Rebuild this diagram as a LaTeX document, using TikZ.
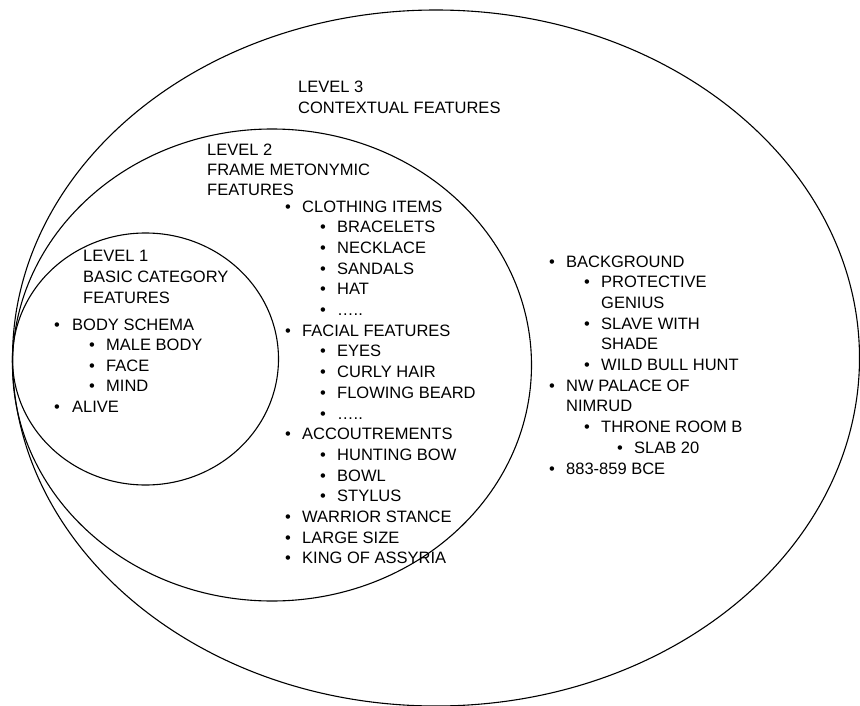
\documentclass[tikz,border=0pt]{standalone}
\usepackage{fontspec}
\setmainfont{Liberation Sans}
% one bulleted line: name, bullet x, text x, baseline y, text
\newcommand\bitem[5]{%
  \node[dot] (#1b) at (#2,#4) {•};
  \node[txt] (#1) at (#3,#4) {#5};}
\begin{document}
\begin{tikzpicture}[x=1pt,y=-1pt,
  ring/.style={draw=black, line width=1.1pt},
  txt/.style={anchor=base west, inner sep=0pt, font=\fontsize{16.5}{20}\selectfont},
  dot/.style={anchor=base, inner sep=0pt, font=\fontsize{16.5}{20}\selectfont},
]
\useasboundingbox (0,0) rectangle (860,706);
\fill[white] (0,0) rectangle (860,706);

% the three nested levels
\draw[ring] (436,358) ellipse [x radius=423.5, y radius=348];
\draw[ring] (272,365) ellipse [x radius=259.5, y radius=236];
\draw[ring] (145.5,359) ellipse [x radius=133, y radius=126];

% level 3
\node[txt] (h3a) at (298,93) {LEVEL 3};
\node[txt] (h3b) at (298,114) {CONTEXTUAL FEATURES};
\bitem{bg}{552}{566}{267}{BACKGROUND}
\bitem{pg}{587}{601}{287.7}{PROTECTIVE}
\node[txt] (pg2) at (601,308.4) {GENIUS};
\bitem{sw}{587}{601}{329.1}{SLAVE WITH}
\node[txt] (sw2) at (601,349.8) {SHADE};
\bitem{wb}{587}{601}{370.5}{WILD BULL HUNT}
\bitem{nw}{552}{566}{391.2}{NW PALACE OF}
\node[txt] (nw2) at (566,411.9) {NIMRUD};
\bitem{tr}{587}{601}{432.6}{THRONE ROOM B}
\bitem{sl}{620}{634}{453.3}{SLAB 20}
\bitem{dt}{552}{566}{474}{883-859 BCE}

% level 2
\node[txt] (h2a) at (207,156) {LEVEL 2};
\node[txt] (h2b) at (207,176) {FRAME METONYMIC};
\node[txt] (h2c) at (207,196) {FEATURES};
\bitem{cl}{288}{302}{212}{CLOTHING ITEMS}
\bitem{br}{323}{337}{232.7}{BRACELETS}
\bitem{ne}{323}{337}{253.4}{NECKLACE}
\bitem{sa}{323}{337}{274.1}{SANDALS}
\bitem{ha}{323}{337}{294.8}{HAT}
\bitem{ca}{323}{337}{315.5}{…..}
\bitem{ff}{288}{302}{336.2}{FACIAL FEATURES}
\bitem{ey}{323}{337}{356.9}{EYES}
\bitem{ch}{323}{337}{377.6}{CURLY HAIR}
\bitem{fb}{323}{337}{398.3}{FLOWING BEARD}
\bitem{fa}{323}{337}{419}{…..}
\bitem{ac}{288}{302}{439.7}{ACCOUTREMENTS}
\bitem{hb}{323}{337}{460.4}{HUNTING BOW}
\bitem{bo}{323}{337}{481.1}{BOWL}
\bitem{st}{323}{337}{501.8}{STYLUS}
\bitem{ws}{288}{302}{522.5}{WARRIOR STANCE}
\bitem{ls}{288}{302}{543.2}{LARGE SIZE}
\bitem{ka}{288}{302}{563.9}{KING OF ASSYRIA}

% level 1
\node[txt] (h1a) at (83,261) {LEVEL 1};
\node[txt] (h1b) at (83,282) {BASIC CATEGORY};
\node[txt] (h1c) at (83,303) {FEATURES};
\bitem{bs}{57}{72}{330}{BODY SCHEMA}
\bitem{mb}{92}{106}{350}{MALE BODY}
\bitem{fc}{92}{106}{371}{FACE}
\bitem{mi}{92}{106}{391}{MIND}
\bitem{al}{57}{72}{412}{ALIVE}
\end{tikzpicture}
\end{document}
